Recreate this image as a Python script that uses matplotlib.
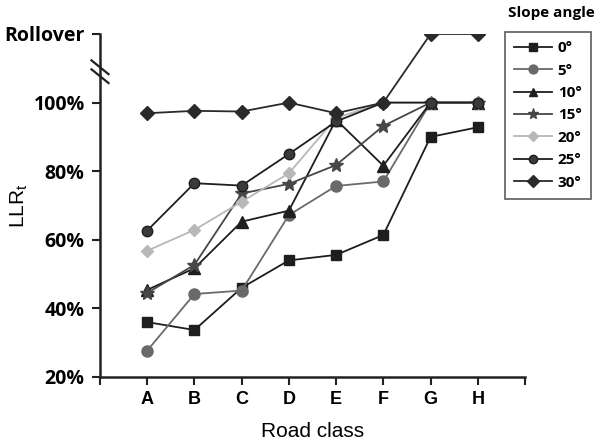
import numpy as np
import matplotlib.pyplot as plt

plt.rcParams['mathtext.fontset'] = 'custom'
plt.rcParams['mathtext.rm'] = 'Liberation Sans'

# 도로 등급
classes = ['A', 'B', 'C', 'D', 'E', 'F', 'G', 'H']

# 경사각별 LLR (Rollover = 120)
llr_0 = [36, 33.7, 46, 54, 55.6, 61.4, 90, 92.8]
llr_5 = [27.7, 44.2, 45.2, 67.2, 75.7, 77, 100, 100]
llr_10 = [45.4, 51.7, 65.3, 68.5, 95, 81.6, 100, 100]
llr_15 = [44.5, 52.7, 73.5, 76.3, 81.8, 93.2, 100, 100]
llr_20 = [56.8, 62.9, 71.1, 79.4, 95.5, 100, 100, 100]
llr_25 = [62.7, 76.5, 75.8, 85, 94.5, 100, 100, 100]
llr_30 = [96.9, 97.6, 97.4, 100, 96.9, 100, 120, 120]

y_ticks = [20, 40, 60, 80, 100, 120]
y_labels = ['20%', '40%', '60%', '80%', '100%', 'Rollover']

series = [
    ('0°', llr_0, 's', '#1e1e1e', '#1e1e1e', 7),
    ('5°', llr_5, 'o', '#6a6a6a', '#6a6a6a', 8),
    ('10°', llr_10, '^', '#1e1e1e', '#1e1e1e', 8),
    ('15°', llr_15, '*', '#474747', '#474747', 10),
    ('20°', llr_20, 'D', '#b8b8b8', '#b8b8b8', 6.5),
    ('25°', llr_25, 'o', '#3a3a3a', '#1e1e1e', 7.5),
    ('30°', llr_30, 'D', '#2a2a2a', '#2a2a2a', 7.5),
]

fig = plt.figure(figsize=(5.98, 4.47), dpi=100)
ax = fig.add_axes([100/598, 1-377/447, 425/598, 343/447])

x = np.arange(1, len(classes) + 1)
for lab, vals, mk, mfc, lc, ms in series:
    ax.plot(x, vals, color=lc, linewidth=1.3, marker=mk, markersize=ms,
            markerfacecolor=mfc, markeredgecolor=lc, label=lab)

ax.set_xlim(0, 9)
ax.set_ylim(20, 120)
ax.set_xticks(np.arange(0, 10))
ax.set_xticklabels([''] + classes + [''], fontfamily='Liberation Sans',
                   fontweight='bold', fontsize=13)
ax.set_yticks(y_ticks)
ax.set_yticklabels(y_labels, fontfamily='Open Sans', fontweight='bold', fontsize=14)
ax.tick_params(axis='both', direction='out', length=6, width=1.5, color='#222222')
ax.tick_params(axis='x', pad=4)
ax.tick_params(axis='y', pad=5)

for s in ['top', 'right']:
    ax.spines[s].set_visible(False)
for s in ['left', 'bottom']:
    ax.spines[s].set_linewidth(1.8)
    ax.spines[s].set_color('#222222')

# 축 끊김 표시
for dy in (-1.3, 1.3):
    ax.plot([-0.18, 0.18], [109 + dy + 2.0, 109 + dy - 2.0], color='#222222',
            linewidth=1.6, clip_on=False, transform=ax.transData)

ax.set_xlabel('Road class', fontfamily='Liberation Sans', fontsize=15, labelpad=10)
ax.set_ylabel('LLR$_\\mathregular{t}$', fontfamily='Liberation Sans', fontsize=15)
ax.yaxis.set_label_coords(-0.165, 0.5)

leg = ax.legend(loc='upper left', bbox_to_anchor=(505/598, 1-32/447),
                bbox_transform=fig.transFigure, frameon=True, fancybox=False,
                handlelength=2.5, handletextpad=0.35, labelspacing=0.55,
                borderpad=0.6, borderaxespad=0, markerscale=0.8,
                prop={'family': 'Open Sans', 'weight': 'bold', 'size': 11})
leg.get_frame().set_edgecolor('#333333')
leg.get_frame().set_linewidth(1.2)
fig.text(551/598, 1-13/447, 'Slope angle', ha='center', va='center',
         fontfamily='Open Sans', fontweight='bold', fontsize=11)

fig.savefig('out.png', dpi=100)
